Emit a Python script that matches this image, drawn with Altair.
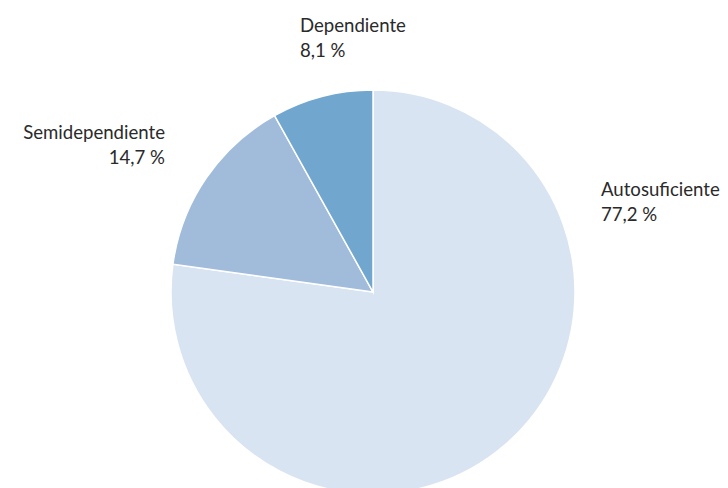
import altair as alt
import pandas as pd

categories = ["Autosuficiente", "Semidependiente", "Dependiente"]
values = [77.2, 14.7, 8.1]
labels_pct = ["77,2 %", "14,7 %", "8,1 %"]
colors = ["#d9e4f2", "#a1bcdb", "#71a6cf"]

df = pd.DataFrame({
    "cat": categories,
    "val": values,
    "pct": labels_pct,
    "ord": list(range(len(categories))),
})
df["label"] = df["cat"] + "\n" + df["pct"]

CX, CY, R = 365, 284, 202
FONT = "Lato"

pie = alt.Chart(df).mark_arc(outerRadius=R, stroke="white", strokeWidth=1.5).encode(
    theta=alt.Theta("val:Q", stack=True),
    order=alt.Order("ord:Q"),
    color=alt.Color("cat:N", scale=alt.Scale(domain=categories, range=colors), legend=None),
    x=alt.value(CX),
    y=alt.value(CY),
)

# annotation placement (label anchor, alignment)
label_pos = {
    "Autosuficiente": (593, 173, "left"),
    "Semidependiente": (157, 116, "right"),
    "Dependiente": (292, 9, "left"),
}

layers = [pie]
for cat in categories:
    lx, ly, al = label_pos[cat]
    layers.append(
        alt.Chart(df[df["cat"] == cat]).mark_text(
            align=al, baseline="top", font=FONT, fontSize=18.6, lineHeight=25,
            color="#2a2a2a", lineBreak="\n",
        ).encode(text="label:N", x=alt.value(lx), y=alt.value(ly))
    )

chart = alt.layer(*layers).properties(
    width=712, height=480, autosize=alt.AutoSizeParams(type="none"), padding=0
).configure_view(stroke=None)

chart.save("out.html", embed_options={"renderer": "svg", "actions": False})
